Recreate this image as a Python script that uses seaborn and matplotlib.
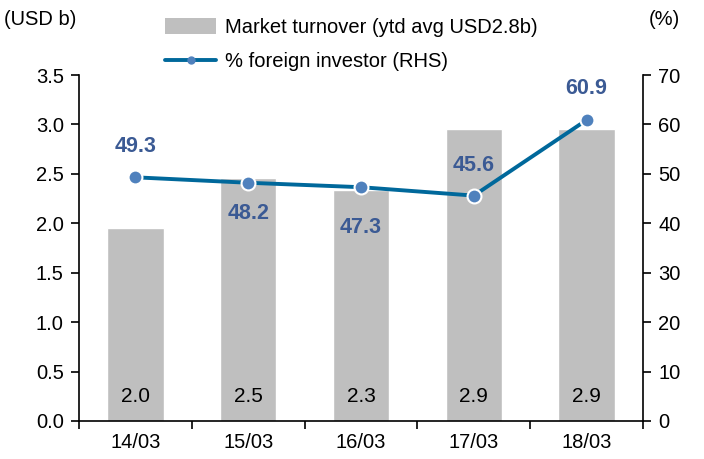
import numpy as np
import pandas as pd
import matplotlib
matplotlib.use("Agg")
import matplotlib.pyplot as plt
import seaborn as sns
from matplotlib.lines import Line2D
from matplotlib.patches import Patch

# datos del grafico
fechas = ["14/03", "15/03", "16/03", "17/03", "18/03"]
turnover = [1.95, 2.46, 2.34, 2.95, 2.95]
turnover_labels = ["2.0", "2.5", "2.3", "2.9", "2.9"]
foreign_pct = [49.3, 48.2, 47.3, 45.6, 60.9]
label_above = [True, False, False, True, True]

sns.set_theme(style="white")
plt.rcParams["font.family"] = ["Liberation Sans", "DejaVu Sans"]
plt.rcParams["text.color"] = "black"
plt.rcParams["xtick.color"] = "black"
plt.rcParams["ytick.color"] = "black"

bar_color = "#bfbfbf"
line_color = "#00689b"
marker_color = "#4f81bd"
label_color = "#3b5a94"
fs = 14.5

df = pd.DataFrame({"fecha": fechas, "turnover": turnover, "pct": foreign_pct})

fig = plt.figure(figsize=(7.04, 4.59), dpi=100)
ax = fig.add_axes([0.1122, 0.0828, 0.8012, 0.7538])

sns.barplot(data=df, x="fecha", y="turnover", color=bar_color, width=0.5,
            saturation=1, ax=ax)
for i, lab in enumerate(turnover_labels):
    ax.text(i, 0.25, lab, ha="center", va="center", fontsize=15, color="black")

ax.set_ylim(0, 3.5)
ax.set_yticks(np.arange(0, 3.51, 0.5))
ax.set_yticklabels([f"{v:.1f}" for v in np.arange(0, 3.51, 0.5)])
ax.set_xlim(-0.5, 4.5)
ax.set_xlabel("")
ax.set_ylabel("")
ax.set_xticks(np.arange(len(fechas)))
ax.set_xticklabels(fechas)
ax.set_xticks(np.arange(-0.5, len(fechas), 1), minor=True)
ax.tick_params(axis="x", which="major", length=0, labelsize=fs, pad=9)
ax.tick_params(axis="x", which="minor", length=6, width=1.2, direction="out",
               bottom=True, color="black")
ax.tick_params(axis="y", length=6, width=1.2, direction="out", left=True,
               labelsize=fs, color="black", pad=5)

ax2 = ax.twinx()
sns.lineplot(x=np.arange(len(fechas)), y=foreign_pct, color=line_color,
             linewidth=2.8, marker="o", markersize=10, markerfacecolor=marker_color,
             markeredgecolor="white", markeredgewidth=1.5, ax=ax2)
ax2.set_ylim(0, 70)
ax2.set_yticks(np.arange(0, 71, 10))
ax2.tick_params(axis="y", length=6, width=1.2, direction="out", right=True,
                labelsize=fs, color="black", pad=5)
ax2.set_xlim(-0.5, 4.5)

for i, v in enumerate(foreign_pct):
    off = 22 if label_above[i] else -22
    if i == 2:
        off = -29
    if i == 4:
        off = 23
    ax2.annotate(f"{v:.1f}", (i, v), xytext=(0, off), textcoords="offset points",
                 ha="center", va="center", fontsize=15.5, fontweight="bold",
                 color=label_color)

for a in (ax, ax2):
    a.spines["top"].set_visible(False)
    for s in ("left", "right", "bottom"):
        a.spines[s].set_color("black")
        a.spines[s].set_linewidth(1.2)
ax.spines["right"].set_visible(False)
ax2.spines["left"].set_visible(False)
ax2.spines["bottom"].set_visible(False)

fig.text(0.005, 0.957, "(USD b)", fontsize=fs, ha="left", va="center")
fig.text(0.922, 0.957, "(%)", fontsize=fs, ha="left", va="center")

handles = [
    Patch(facecolor=bar_color, edgecolor="none"),
    Line2D([0], [0], color=line_color, linewidth=2.8, marker="o", markersize=5,
           markerfacecolor=marker_color, markeredgecolor=marker_color),
]
fig.legend(handles, ["Market turnover (ytd avg USD2.8b)", "% foreign investor (RHS)"],
           loc="upper left", bbox_to_anchor=(0.212, 0.996), frameon=False,
           fontsize=fs, handlelength=2.5, handleheight=0.8, labelspacing=0.75,
           borderaxespad=0.4, handletextpad=0.45)

fig.savefig("out.png", dpi=100)
